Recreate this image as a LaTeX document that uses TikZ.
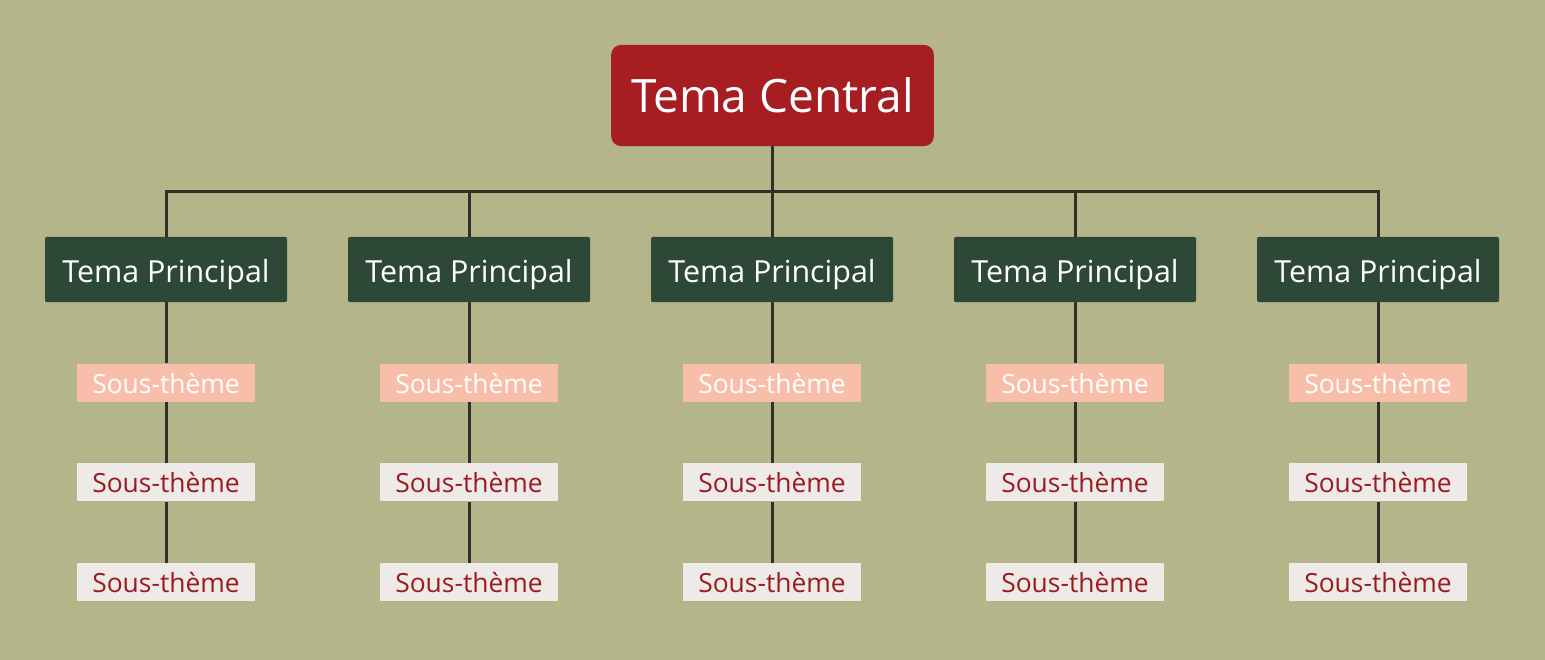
\documentclass[tikz,border=0pt]{standalone}
\usepackage{fontspec}
\setmainfont{Open Sans}
\usetikzlibrary{positioning}
\definecolor{olivebg}{RGB}{180,182,138}
\definecolor{centralred}{RGB}{166,30,33}
\definecolor{darkgreen}{RGB}{46,72,56}
\definecolor{salmon}{RGB}{249,190,170}
\definecolor{paleash}{RGB}{238,234,231}
\definecolor{subred}{RGB}{155,28,32}
\definecolor{linkgray}{RGB}{47,48,40}

\tikzset{
  centralbox/.style={rounded corners=7.5pt,fill=centralred,text=white,minimum width=242pt,minimum height=76pt,inner sep=0pt,font=\fontsize{34.5}{40}\selectfont},
  mainbox/.style={rounded corners=1.5pt,fill=darkgreen,text=white,minimum width=181.5pt,minimum height=49pt,inner sep=0pt,text height=19pt,text depth=0pt,font=\fontsize{22.8}{27}\selectfont},
  subbox/.style={minimum width=134pt,minimum height=28.5pt,inner sep=0pt,text height=16pt,text depth=0pt,font=\fontsize{19.8}{24}\selectfont},
  firstsub/.style={subbox,fill=salmon,text=white},
  othersub/.style={subbox,fill=paleash,text=subred},
  link/.style={draw=linkgray,line width=2.25pt}
}

\begin{document}
\begin{tikzpicture}[x=0.75pt,y=-0.75pt,node distance=45.75pt]

	\fill[olivebg] (0,0) rectangle (1545,660);

	\node[centralbox] (central) at (772.5,95.5) {Tema Central};
	\coordinate (bus) at (772.5,191);
	\draw[link] (central.south) -- (bus);

	\foreach \i/\x in {1/166,2/469,3/772,4/1075,5/1378}{
		\node[mainbox] (p\i) at (\x,269.5) {Tema Principal};
		\node[firstsub,below=of p\i] (a\i) {Sous-thème};
		\node[othersub,below=of a\i] (b\i) {Sous-thème};
		\node[othersub,below=of b\i] (c\i) {Sous-thème};

		\draw[link] (bus) -| (p\i.north);
		\draw[link] (p\i.south) -- (a\i.north);
		\draw[link] (a\i.south) -- (b\i.north);
		\draw[link] (b\i.south) -- (c\i.north);
	}

\end{tikzpicture}
\end{document}
